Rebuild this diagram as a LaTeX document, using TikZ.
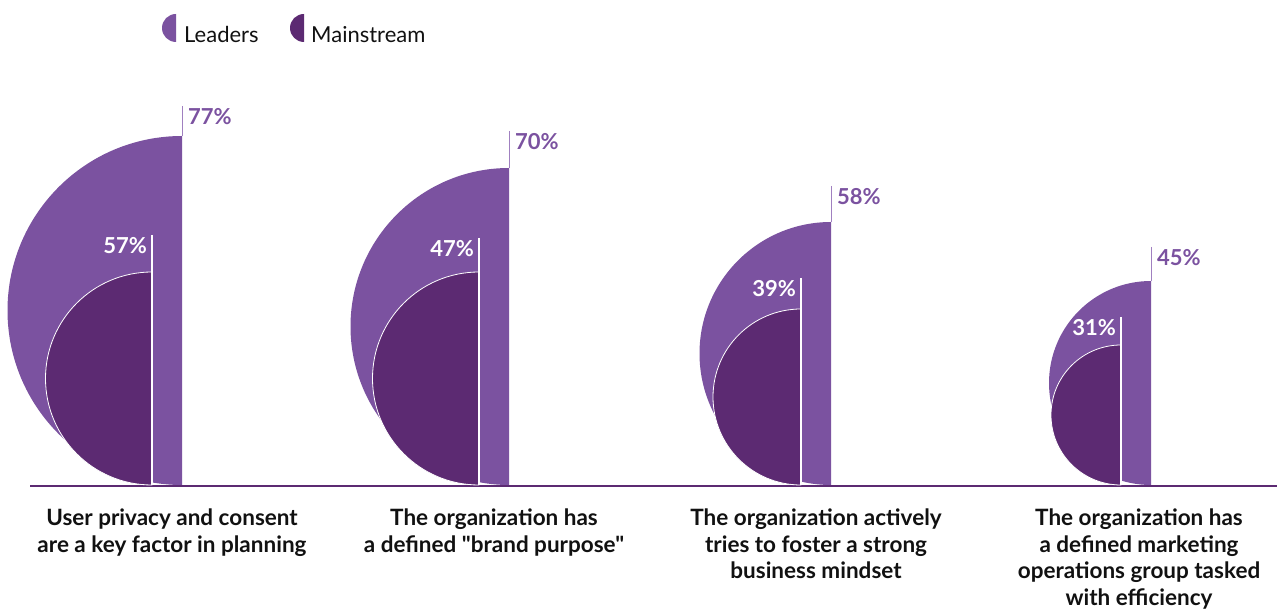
\documentclass[tikz,border=0pt]{standalone}
\usepackage{fontspec}
\setmainfont{Lato}[Ligatures=TeXOff]
\setsansfont{Lato}[Ligatures=TeXOff]
\usetikzlibrary{
    positioning,
    calc
}
\definecolor{leaders}{HTML}{7B52A0}
\definecolor{mainstream}{HTML}{5C2A72}
\definecolor{leadtick}{HTML}{A080C0}
\definecolor{dark}{HTML}{111111}
\tikzset{
    % Half disc fills
    leader disc/.style={
        fill=leaders
    },
    main disc/.style={
        fill=mainstream,
        draw=white,
        line width=0.8pt
    },
    % Tick lines above the discs
    leader tick/.style={
        draw=leadtick,
        line width=1pt
    },
    main tick/.style={
        draw=white,
        line width=1.2pt
    },
    % Value label styles
    leader value/.style={
        font=\fontsize{22}{22}\selectfont\bfseries,
        text=leaders,
        inner sep=0pt
    },
    main value/.style={
        font=\fontsize{22}{22}\selectfont\bfseries,
        text=white,
        inner sep=0pt
    },
    % Category label style
    category/.style={
        font=\fontsize{22.5}{26.5}\selectfont\bfseries,
        text=dark,
        align=center,
        inner sep=0pt,
        anchor=north
    },
    % Legend text style
    legend text/.style={
        font=\fontsize{22}{22}\selectfont,
        text=dark,
        inner sep=0pt,
        anchor=base west
    }
}

\begin{document}
\begin{tikzpicture}[x=1pt, y=1pt]
    \useasboundingbox (0,0) rectangle (1277,608);

    % Legend
    \fill[leaders] (176,566) arc[start angle=-90, end angle=-270, radius=14] -- cycle;
    \node[legend text] (leadkey) at (184,565) {Leaders};
    \fill[mainstream] (304,566) arc[start angle=-90, end angle=-270, radius=14] -- cycle;
    \node[legend text] (mainkey) at (311,565) {Mainstream};

    % Baseline
    \coordinate (axisleft) at (30,122);
    \coordinate (axisright) at (1277,122);
    \draw[mainstream, line width=1.5pt] (axisleft) -- (axisright);

    % Discs, ticks and values per statement
    \foreach \n/\lx/\lr/\mx/\mr/\lt/\mt/\lv/\mv in {
        1/182/174.5/152/106.5/502/373/77/57,
        2/509/158.5/479/106.5/477/370/70/47,
        3/831/131.5/801/88/422/330/58/39,
        4/1151/102/1121/70/361/291/45/31}{
        \fill[leader disc] (\lx,123) arc[start angle=-90, end angle=-270, radius=\lr] -- cycle;
        \coordinate (ltip\n) at (\lx,\lt);
        \coordinate (ltop\n) at (\lx,{123+2*\lr});
        \draw[leader tick] (ltip\n) -- (ltop\n);
        \node[leader value, anchor=north west] (lval\n) at ([xshift=6pt, yshift=-2pt]ltip\n) {\lv\%};
        \filldraw[main disc] (\mx,123) arc[start angle=-90, end angle=-270, radius=\mr] -- cycle;
        \coordinate (mtip\n) at (\mx,\mt);
        \coordinate (mfoot\n) at (\mx,122.5);
        \draw[main tick] (mtip\n) -- (mfoot\n);
        \node[main value, anchor=north east] (mval\n) at ([xshift=-5pt, yshift=-2pt]mtip\n) {\mv\%};
    }

    % Statements below the axis
    \node[category] (privacy) at (172,99) {User privacy and consent\\are a key factor in planning};
    \node[category] (purpose) at (494,99) {The organization has\\a defined "brand purpose"};
    \node[category] (mindset) at (816,99) {The organization actively\\tries to foster a strong\\business mindset};
    \node[category] (operations) at (1139,99) {The organization has\\a defined marketing\\operations group tasked\\with efficiency};

\end{tikzpicture}
\end{document}
